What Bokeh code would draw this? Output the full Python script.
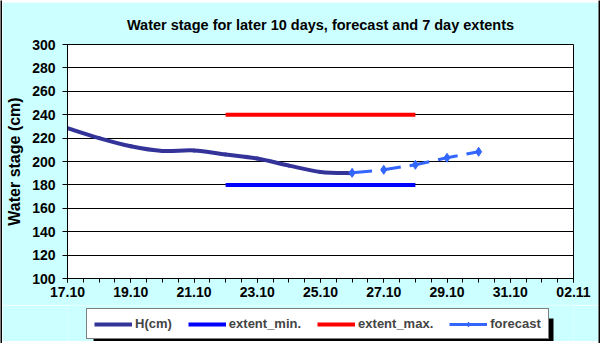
import pandas as pd
from bokeh.plotting import figure
from bokeh.layouts import column, row
from bokeh.models import FixedTicker, Legend, LegendItem, Range1d, BoxAnnotation
from bokeh.embed import file_html
from bokeh.resources import INLINE

YEAR = 2024
# Observed water stage H(cm)
h_dates = ["17.10", "18.10", "19.10", "20.10", "21.10", "22.10", "23.10", "24.10", "25.10", "26.10"]
h_values = [228.5, 220, 213, 209, 209.5, 206, 202.5, 196.5, 191, 190]
# Forecast
fc_dates = ["26.10", "27.10", "28.10", "29.10", "30.10"]
fc_values = [190.3, 192.9, 197.2, 203.2, 208.3]
# 7 day extents
ext_dates = ["22.10", "28.10"]
ext_min = [180, 180]
ext_max = [240, 240]
# Axis
x_tick_labels = ["17.10", "19.10", "21.10", "23.10", "25.10", "27.10", "29.10", "31.10", "02.11"]
y_ticks = [100, 120, 140, 160, 180, 200, 220, 240, 260, 280, 300]

base = pd.to_datetime(f"17.10.{YEAR}", format="%d.%m.%Y")
def days(labels):
    return [(pd.to_datetime(f"{d}.{YEAR}", format="%d.%m.%Y") - base).days for d in labels]

hx = days(h_dates)
fx = days(fc_dates)
ex = days(ext_dates)
tx = days(x_tick_labels)

FONT = "Liberation Sans"
BG = "#CCFFFF"
C_H, C_MIN, C_MAX, C_FC = "#333399", "#0000FF", "#FF0000", "#3366FF"

p = figure(width=596, height=303, output_backend="svg", toolbar_location=None,
           x_range=Range1d(tx[0], tx[-1]), y_range=Range1d(100, 300),
           min_border_left=65, min_border_right=25, min_border_top=42, min_border_bottom=27,
           title="Water stage for later 10 days, forecast and 7 day extents")

p.border_fill_color = BG
p.background_fill_color = "white"
p.outline_line_color = "black"
p.outline_line_width = 1

p.title.align = "center"
p.title.text_font = FONT
p.title.text_font_size = "14.5px"
p.title.text_font_style = "bold"
p.title.text_color = "black"
p.title.standoff = 23

# grid
p.xgrid.visible = False
p.ygrid.grid_line_color = "black"
p.ygrid.grid_line_width = 1
p.ygrid.ticker = FixedTicker(ticks=y_ticks)

# y axis
p.yaxis.ticker = FixedTicker(ticks=y_ticks)
p.yaxis.axis_label = "Water stage (cm)"
p.yaxis.axis_label_text_font = FONT
p.yaxis.axis_label_text_font_size = "16px"
p.yaxis.axis_label_text_font_style = "bold"
p.yaxis.axis_label_text_color = "black"
p.yaxis.axis_label_standoff = 6
p.yaxis.major_label_text_font = FONT
p.yaxis.major_label_text_font_size = "14px"
p.yaxis.major_label_text_font_style = "bold"
p.yaxis.major_label_text_color = "black"
p.yaxis.major_tick_out = 5
p.yaxis.major_tick_in = 0
p.yaxis.minor_tick_out = 0
p.yaxis.axis_line_color = "black"
p.yaxis.major_tick_line_color = "black"
p.yaxis.major_label_standoff = 7

# x axis
minor = [t / 2 for t in range(0, 2 * tx[-1] + 1)]
p.xaxis.ticker = FixedTicker(ticks=tx, minor_ticks=minor)
p.xaxis.major_label_overrides = {t: lab for t, lab in zip(tx, x_tick_labels)}
p.xaxis.major_label_text_font = FONT
p.xaxis.major_label_text_font_size = "14px"
p.xaxis.major_label_text_font_style = "bold"
p.xaxis.major_label_text_color = "black"
p.xaxis.major_tick_out = 4
p.xaxis.major_tick_in = 0
p.xaxis.minor_tick_out = 4
p.xaxis.minor_tick_in = 0
p.xaxis.axis_line_color = "black"
p.xaxis.major_tick_line_color = "black"
p.xaxis.minor_tick_line_color = "black"
p.xaxis.major_label_standoff = 4

# smoothed H(cm) line (Catmull-Rom segments drawn as Bezier curves through the data points)
n = len(hx)
px_ = [hx[0]] + hx + [hx[-1]]
py_ = [h_values[0]] + h_values + [h_values[-1]]
x0, y0, x1, y1, cx0, cy0, cx1, cy1 = [], [], [], [], [], [], [], []
for i in range(1, n):
    x0.append(px_[i]); y0.append(py_[i])
    x1.append(px_[i + 1]); y1.append(py_[i + 1])
    cx0.append(px_[i] + (px_[i + 1] - px_[i - 1]) / 6)
    cy0.append(py_[i] + (py_[i + 1] - py_[i - 1]) / 6)
    cx1.append(px_[i + 1] - (px_[i + 2] - px_[i]) / 6)
    cy1.append(py_[i + 1] - (py_[i + 2] - py_[i]) / 6)
p.bezier(x0=x0, y0=y0, x1=x1, y1=y1, cx0=cx0, cy0=cy0, cx1=cx1, cy1=cy1,
         line_color=C_H, line_width=4, line_cap="round")

p.line(ex, ext_min, line_color=C_MIN, line_width=4)
p.line(ex, ext_max, line_color=C_MAX, line_width=4)
p.line(fx, fc_values, line_color=C_FC, line_width=3, line_dash="20 9")
p.scatter(fx, fc_values, marker="diamond", size=9, fill_color=C_FC, line_color=C_FC)

# legend strip: same series, drawn outside its (tiny) ranges so only legend glyphs show
lp = figure(width=596, height=36, output_backend="svg", toolbar_location=None,
            x_range=Range1d(-1000, -999), y_range=Range1d(-1000, -999),
            min_border=0, min_border_left=0, min_border_right=0, min_border_top=0, min_border_bottom=0)
lp.axis.visible = False
lp.grid.visible = False
lp.outline_line_color = None
lp.background_fill_color = BG
lp.border_fill_color = BG
l_h = lp.line(hx, h_values, line_color=C_H, line_width=4)
l_min = lp.line(ex, ext_min, line_color=C_MIN, line_width=4)
l_max = lp.line(ex, ext_max, line_color=C_MAX, line_width=4)
l_fc = lp.line(fx, fc_values, line_color=C_FC, line_width=3)
l_fcm = lp.scatter(fx, fc_values, marker="diamond", size=8, fill_color=C_FC, line_color=C_FC)

# legend drop shadow
lp.add_layout(BoxAnnotation(left=91, right=551, top=13, bottom=36,
                            left_units="canvas", right_units="canvas",
                            top_units="canvas", bottom_units="canvas",
                            fill_color="black", fill_alpha=1, line_color=None))

legend = Legend(items=[
    LegendItem(label="H(cm)", renderers=[l_h]),
    LegendItem(label="extent_min.", renderers=[l_min]),
    LegendItem(label="extent_max.", renderers=[l_max]),
    LegendItem(label="forecast", renderers=[l_fc, l_fcm]),
], orientation="horizontal", location=(19, 2))
legend.label_text_font = FONT
legend.label_text_font_size = "13px"
legend.label_text_font_style = "bold"
legend.label_standoff = 3
legend.glyph_width = 38
legend.glyph_height = 12
legend.spacing = 16
legend.padding = 7
legend.margin = 0
legend.label_height = 12
legend.border_line_color = "black"
legend.border_line_width = 1
legend.background_fill_color = "white"
legend.background_fill_alpha = 1
lp.add_layout(legend, "center")

# black outer frame made of thin filled figures
def black_strip(w, h):
    f = figure(width=w, height=h, toolbar_location=None, output_backend="svg",
               min_border=0, min_border_left=0, min_border_right=0,
               min_border_top=0, min_border_bottom=0)
    f.axis.visible = False
    f.grid.visible = False
    f.outline_line_color = None
    f.background_fill_color = "black"
    f.border_fill_color = "black"
    return f

layout = row(black_strip(2, 343),
             column(black_strip(596, 2), p, lp, black_strip(596, 2), spacing=0),
             black_strip(2, 343), spacing=0)

open("out.html", "w").write(file_html(layout, INLINE))
